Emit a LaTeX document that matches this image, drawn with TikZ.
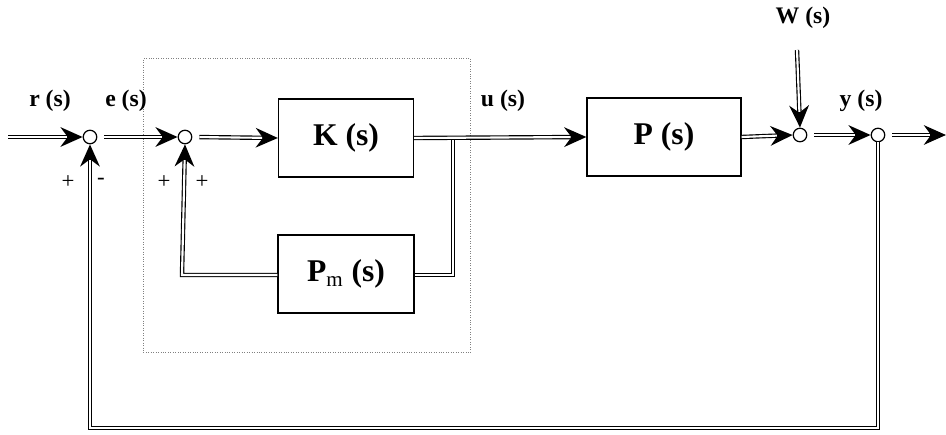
\documentclass[tikz,border=0pt]{standalone}
\usepackage{fontspec}
\setmainfont{Liberation Serif}
\usetikzlibrary{arrows.meta}
\begin{document}
\begin{tikzpicture}[x=0.02cm,y=-0.02cm,
  blk/.style={draw, line width=0.7pt, inner sep=0pt},
  sumj/.style={draw, circle, line width=0.7pt, inner sep=0pt, minimum size=0.27cm},
  dbl/.style={line width=2.5pt, line join=miter,
    postaction={draw=white, line width=1.2pt, arrows=-, shorten >=#1}},
  dbl/.default=0pt,
  dar/.style={dbl=9pt, -{Stealth[length=12.5pt, width=11pt, inset=4pt]}},
  lab/.style={font=\bfseries\fontsize{13.5}{15}\selectfont},
  big/.style={font=\bfseries\fontsize{18}{20}\selectfont},
  sgn/.style={font=\fontsize{13}{14}\selectfont}]
\useasboundingbox (0,0) rectangle (946,435);
% dotted box
\node[draw, densely dotted, line width=0.4pt, gray, minimum width=327*0.02cm, minimum height=294*0.02cm, anchor=north west, inner sep=0pt] (dot) at (143,58) {};
% blocks
\node[blk, minimum width=135*0.02cm, minimum height=78*0.02cm] (K) at (346,138) {};
\node[big] at (K.center) {K (s)};
\node[blk, minimum width=136*0.02cm, minimum height=78*0.02cm] (Pm) at (346,274) {};
\node[big] at (Pm.center) {P\textsubscript{\normalfont\fontsize{12}{13}\selectfont m} (s)};
\node[blk, minimum width=154*0.02cm, minimum height=78*0.02cm] (P) at (664,137) {};
\node[big] at (P.center) {P (s)};
% summing junctions
\node[sumj] (s1) at (90,137) {};
\node[sumj] (s2) at (185,137) {};
\node[sumj] (s3) at (800,135) {};
\node[sumj] (s4) at (878,135) {};
% coordinates
\coordinate (in) at (8,137);
\coordinate (out) at (946,135);
\coordinate (w) at (797,50);
\coordinate (j) at (453,138);
\coordinate (pmr) at (453,275);
\coordinate (pml) at (182,275);
\coordinate (fbr) at (878,428);
\coordinate (fbl) at (90,428);
% connectors
\draw[dbl] (j) -- (pmr) -- (Pm.east |- pmr);
\draw[dar] (in) -- (s1.west);
\draw[dar, shorten <=4pt] (s1.east) -- (s2.west);
\draw[dar, shorten <=4pt] (s2.east) -- (K.west);
\draw[dar] (K.east) -- (P.west);
\draw[dar] (Pm.west |- pml) -- (pml) -- (s2.south);
\draw[dar] (P.east) -- (s3.west);
\draw[dar] (w) -- (s3.north);
\draw[dar, shorten <=4pt] (s3.east) -- (s4.west);
\draw[dar, shorten <=4pt] (s4.east) -- (out);
\draw[dar] (s4.south) -- (fbr) -- (fbl) -- (s1.south);
% labels
\node[lab] at (50,101) {r (s)};
\node[lab] at (126,101) {e (s)};
\node[lab] at (503,101) {u (s)};
\node[lab] at (861,101) {y (s)};
\node[lab] at (803,18) {W (s)};
\node[sgn] at (68,182) {+};
\node[sgn] at (101,181) {-};
\node[sgn] at (164,182) {+};
\node[sgn] at (202,182) {+};
\end{tikzpicture}
\end{document}
